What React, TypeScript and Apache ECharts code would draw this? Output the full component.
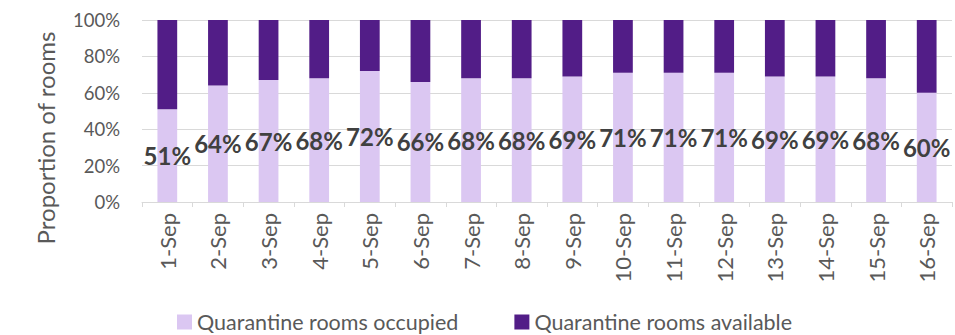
import React, { useEffect, useRef } from "react";
import * as echarts from "echarts";

const categories = ["1-Sep","2-Sep","3-Sep","4-Sep","5-Sep","6-Sep","7-Sep","8-Sep","9-Sep","10-Sep","11-Sep","12-Sep","13-Sep","14-Sep","15-Sep","16-Sep"];
const occupied = [51, 64, 67, 68, 72, 66, 68, 68, 69, 71, 71, 71, 69, 69, 68, 60];
const available = occupied.map((v) => 100 - v);
const yTicks = [0, 20, 40, 60, 80, 100];

const FONT = "Lato";

export default function App() {
  const ref = useRef<HTMLDivElement>(null);
  useEffect(() => {
    if (!ref.current) return;
    const chart = echarts.init(ref.current, null, { renderer: "svg" });
    chart.setOption({
      animation: false,
      backgroundColor: "#ffffff",
      textStyle: { fontFamily: FONT },
      grid: { left: 142, right: 3, top: 20, bottom: 133, containLabel: false },
      legend: {
        top: 311,
        left: 177,
        padding: 0,
        itemWidth: 15,
        itemHeight: 15,
        itemGap: 56,
        icon: "rect",
        textStyle: { fontFamily: FONT, fontSize: 21.5, lineHeight: 22, color: "#595959" },
        data: ["Quarantine rooms occupied", "Quarantine rooms available"],
      },
      graphic: [
        {
          type: "text",
          x: 45,
          y: 138,
          rotation: Math.PI / 2,
          style: {
            text: "Proportion of rooms",
            fontFamily: FONT,
            fontSize: 24,
            fill: "#595959",
            align: "center",
            verticalAlign: "middle",
          },
        },
      ],
      xAxis: {
        type: "category",
        data: categories,
        axisLine: { lineStyle: { color: "#d9d9d9" } },
        axisTick: { show: true, length: 5, lineStyle: { color: "#d9d9d9" } },
        axisLabel: { rotate: 90, fontFamily: FONT, fontSize: 22, color: "#595959", margin: 11 },
      },
      yAxis: {
        type: "value",
        min: yTicks[0],
        max: yTicks[yTicks.length - 1],
        interval: 20,
        axisLine: { show: false },
        axisTick: { show: false },
        splitLine: { lineStyle: { color: "#d9d9d9" } },
        axisLabel: { formatter: "{value}%", fontFamily: FONT, fontSize: 18.5, color: "#595959", margin: 22 },
      },
      series: [
        {
          name: "Quarantine rooms occupied",
          type: "bar",
          stack: "total",
          barWidth: "39%",
          data: occupied,
          itemStyle: { color: "#dbc7f2" },
          label: {
            show: true,
            position: "inside",
            formatter: "{c}%",
            fontFamily: FONT,
            fontWeight: "bold",
            fontSize: 24,
            color: "#404040",
          },
        },
        {
          name: "Quarantine rooms available",
          type: "bar",
          stack: "total",
          barWidth: "39%",
          data: available,
          itemStyle: { color: "#521d87" },
        },
      ],
    });
    return () => chart.dispose();
  }, []);
  return <div ref={ref} style={{ width: 955, height: 335, position: "absolute", left: 0, top: 0 }} />;
}
